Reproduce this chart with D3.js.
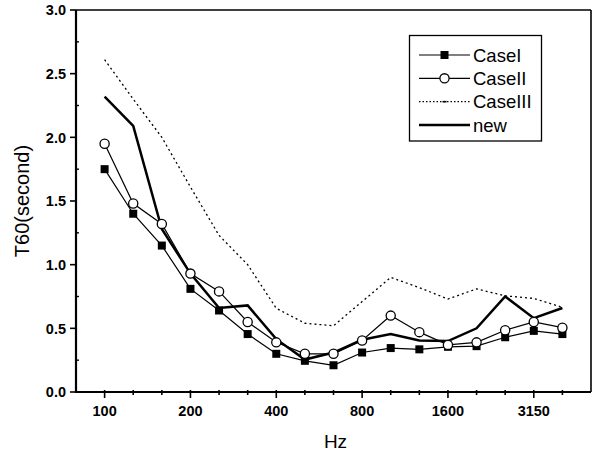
<!DOCTYPE html>
<html>
<head>
<meta charset="utf-8">
<script src="https://cdn.jsdelivr.net/npm/d3@7"></script>
<style>
  html, body { margin: 0; padding: 0; background: #fff; }
  svg { display: block; }
  text { font-family: "Liberation Sans", Arial, sans-serif; fill: #000; }
</style>
</head>
<body>
<svg id="chart" width="595" height="452"></svg>
<script>
// One-third octave band centre frequencies (Hz)
const bands = ["100","125","160","200","250","315","400","500","630","800","1000","1250","1600","2000","2500","3150","4000"];
const bandLabels = ["100","200","400","800","1600","3150"];

// Reverberation time T60 (seconds) per band
const caseI   = [1.75,1.40,1.15,0.81,0.64,0.455,0.30,0.245,0.21,0.31,0.345,0.335,0.355,0.36,0.43,0.48,0.455];
const caseII  = [1.95,1.48,1.32,0.93,0.79,0.55,0.39,0.30,0.30,0.405,0.60,0.47,0.37,0.39,0.485,0.55,0.505];
const caseIII = [2.61,2.30,2.00,1.61,1.23,1.00,0.657,0.54,0.52,0.71,0.90,0.82,0.73,0.81,0.755,0.735,0.665];
const newCase = [2.32,2.09,1.28,0.93,0.66,0.68,0.415,0.255,0.31,0.41,0.455,0.405,0.40,0.50,0.75,0.58,0.66];

const yTicks = [0, 0.5, 1.0, 1.5, 2.0, 2.5, 3.0];
const yMinor = [0.25, 0.75, 1.25, 1.75, 2.25, 2.75];

const svg = d3.select("#chart");
const pLeft = 76, pRight = 591, pTop = 10, pBottom = 392;

const x = d3.scaleLinear().domain([-1, bands.length]).range([pLeft, pRight]);
const y = d3.scaleLinear().domain([0, 3]).range([pBottom, pTop]);

// Frame: top and right edges
svg.append("line").attr("x1", pLeft).attr("x2", pRight).attr("y1", pTop).attr("y2", pTop)
  .attr("stroke", "#000").attr("stroke-width", 1.6);
svg.append("line").attr("x1", pRight).attr("x2", pRight).attr("y1", pTop).attr("y2", pBottom)
  .attr("stroke", "#000").attr("stroke-width", 1.6);

// Y axis
const yAxis = svg.append("g").attr("transform", `translate(${pLeft},0)`);
yAxis.append("line").attr("x1", 0).attr("x2", 0).attr("y1", pTop).attr("y2", pBottom + 1)
  .attr("stroke", "#000").attr("stroke-width", 2.2);
yAxis.selectAll(".maj").data(yTicks).join("line")
  .attr("class", "maj")
  .attr("x1", -6).attr("x2", 0).attr("y1", d => y(d)).attr("y2", d => y(d))
  .attr("stroke", "#000").attr("stroke-width", 1.6);
yAxis.selectAll(".min").data(yMinor).join("line")
  .attr("class", "min")
  .attr("x1", 0).attr("x2", 3).attr("y1", d => y(d)).attr("y2", d => y(d))
  .attr("stroke", "#000").attr("stroke-width", 1.4);
yAxis.selectAll("text").data(yTicks).join("text")
  .attr("x", -10).attr("y", d => y(d)).attr("dy", "0.36em")
  .attr("text-anchor", "end").attr("font-size", 14.5).attr("font-weight", "bold")
  .text(d => d3.format(".1f")(d));

// X axis
const xAxis = svg.append("g").attr("transform", `translate(0,${pBottom})`);
xAxis.append("line").attr("x1", pLeft - 1).attr("x2", pRight).attr("y1", 0).attr("y2", 0)
  .attr("stroke", "#000").attr("stroke-width", 2.2);
xAxis.selectAll(".tk").data(bands).join("line")
  .attr("class", "tk")
  .attr("x1", (d, i) => x(i)).attr("x2", (d, i) => x(i))
  .attr("y1", -2).attr("y2", d => bandLabels.includes(d) ? 6 : 3)
  .attr("stroke", "#000").attr("stroke-width", 1.6);
xAxis.selectAll("text").data(bands.filter(b => bandLabels.includes(b))).join("text")
  .attr("x", d => x(bands.indexOf(d))).attr("y", 24)
  .attr("text-anchor", "middle").attr("font-size", 14.5).attr("font-weight", "bold")
  .text(d => d);

// Axis titles
svg.append("text").attr("transform", `translate(22,${(pTop + pBottom) / 2}) rotate(-90)`)
  .attr("text-anchor", "middle").attr("dy", "0.36em").attr("font-size", 20)
  .text("T60(second)");
svg.append("text").attr("x", (pLeft + pRight) / 2 + 2).attr("y", 448)
  .attr("text-anchor", "middle").attr("font-size", 19)
  .text("Hz");

// Series lines
const line = d3.line().x((d, i) => x(i)).y(d => y(d));

svg.append("path").datum(caseIII).attr("d", line)
  .attr("fill", "none").attr("stroke", "#000").attr("stroke-width", 1.3)
  .attr("stroke-dasharray", "2,3");
svg.append("path").datum(caseI).attr("d", line)
  .attr("fill", "none").attr("stroke", "#000").attr("stroke-width", 1.2);
svg.append("path").datum(caseII).attr("d", line)
  .attr("fill", "none").attr("stroke", "#000").attr("stroke-width", 1.2);
svg.append("path").datum(newCase).attr("d", line)
  .attr("fill", "none").attr("stroke", "#000").attr("stroke-width", 2.5);

// Markers
const sq = 8;
svg.append("g").selectAll("rect").data(caseI).join("rect")
  .attr("x", (d, i) => x(i) - sq / 2).attr("y", d => y(d) - sq / 2)
  .attr("width", sq).attr("height", sq).attr("fill", "#000");
svg.append("g").selectAll("circle").data(caseII).join("circle")
  .attr("cx", (d, i) => x(i)).attr("cy", d => y(d)).attr("r", 4.6)
  .attr("fill", "#fff").attr("stroke", "#000").attr("stroke-width", 1.3);

// Legend
const lg = svg.append("g");
lg.append("rect").attr("x", 409.5).attr("y", 35.5).attr("width", 132).attr("height", 105.5)
  .attr("fill", "#fff").attr("stroke", "#000").attr("stroke-width", 1.3);
const entries = [
  { name: "CaseI", kind: "square" },
  { name: "CaseII", kind: "circle" },
  { name: "CaseIII", kind: "dot" },
  { name: "new", kind: "thick" }
];
const ly = d3.scalePoint().domain(entries.map(e => e.name)).range([55, 125]);
const lx1 = 419, lx2 = 470, lmid = (lx1 + lx2) / 2;
entries.forEach(e => {
  const yy = ly(e.name);
  const l = lg.append("line").attr("x1", lx1).attr("x2", lx2).attr("y1", yy).attr("y2", yy)
    .attr("stroke", "#000");
  if (e.kind === "dot") l.attr("stroke-width", 1.1).attr("stroke-dasharray", "1.5,2");
  else if (e.kind === "thick") l.attr("stroke-width", 2.5);
  else l.attr("stroke-width", 1.2);
  if (e.kind === "square") {
    lg.append("rect").attr("x", lmid - sq / 2).attr("y", yy - sq / 2)
      .attr("width", sq).attr("height", sq).attr("fill", "#000");
  } else if (e.kind === "circle") {
    lg.append("circle").attr("cx", lmid).attr("cy", yy).attr("r", 4.6)
      .attr("fill", "#fff").attr("stroke", "#000").attr("stroke-width", 1.3);
  } else if (e.kind === "dot") {
    lg.append("line").attr("x1", lmid - 2).attr("x2", lmid + 2).attr("y1", yy).attr("y2", yy)
      .attr("stroke", "#000").attr("stroke-width", 1.6);
  }
  lg.append("text").attr("x", 473).attr("y", yy).attr("dy", "0.36em")
    .attr("font-size", 18.5).text(e.name);
});
</script>
</body>
</html>
